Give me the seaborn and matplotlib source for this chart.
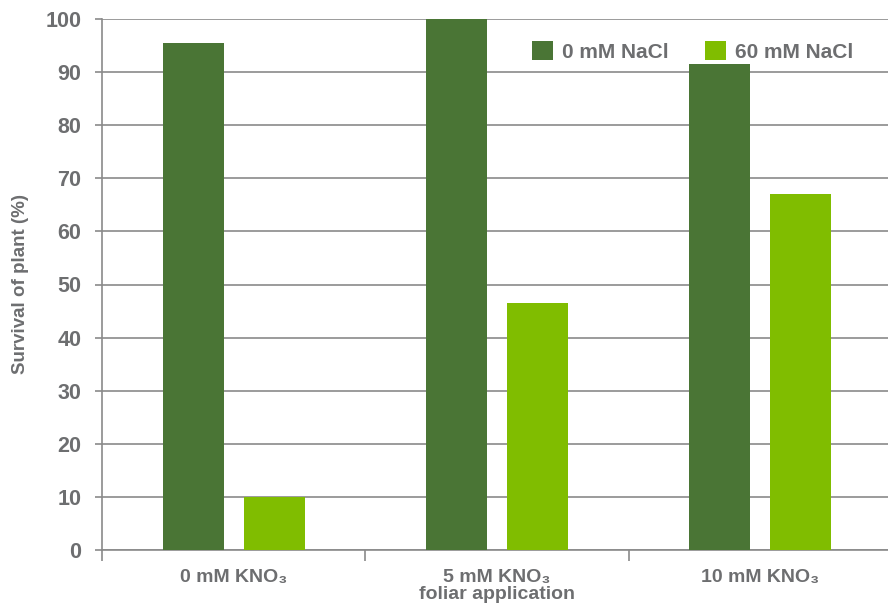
import matplotlib
matplotlib.use("Agg")
import matplotlib.pyplot as plt
import seaborn as sns
import pandas as pd

categories = ["0 mM KNO\u2083", "5 mM KNO\u2083\nfoliar application", "10 mM KNO\u2083"]
series_names = ["0 mM NaCl", "60 mM NaCl"]
nacl_0 = [95.5, 100.0, 91.5]
nacl_60 = [10.0, 46.5, 67.0]
yticks = [0, 10, 20, 30, 40, 50, 60, 70, 80, 90, 100]

colors = ["#4a7535", "#80bd00"]
text_color = "#6d6e70"
grid_color = "#8a8a8a"

sns.set_theme(style="white")
plt.rcParams["font.family"] = ["Liberation Sans", "DejaVu Sans"]
plt.rcParams["font.weight"] = "bold"

df = pd.DataFrame({
    "cat": categories * 2,
    "val": nacl_0 + nacl_60,
    "salt": [series_names[0]] * 3 + [series_names[1]] * 3,
})

fig = plt.figure(figsize=(8.88, 6.04), dpi=100)
ax = fig.add_axes([102 / 888, 1 - 550 / 604, 790 / 888, 531 / 604])

sns.barplot(data=df, x="cat", y="val", hue="salt", palette=colors,
            width=0.616, gap=0.247, saturation=1, ax=ax, zorder=3,
            linewidth=0, edgecolor="none")

ax.set_xlim(-0.5, 2.5)
ax.set_ylim(0, 100)
ax.set_yticks(yticks)
ax.set_yticklabels([str(v) for v in yticks])
ax.yaxis.grid(True, color=grid_color, linewidth=1.2, zorder=0)
ax.set_axisbelow(True)

for s in ["top", "right"]:
    ax.spines[s].set_visible(False)
for s in ["left", "bottom"]:
    ax.spines[s].set_color(grid_color)
    ax.spines[s].set_linewidth(1.2)

ax.tick_params(axis="y", which="major", left=True, length=5, width=1.2,
               color=grid_color, pad=10, labelsize=15.5, labelcolor=text_color)
ax.tick_params(axis="x", which="major", bottom=False, pad=8,
               labelsize=14, labelcolor=text_color)
ax.set_xticks([-0.5, 0.5, 1.5, 2.5], minor=True)
ax.tick_params(axis="x", which="minor", bottom=True, length=8, width=1.2,
               color=grid_color)
for lab in ax.get_xticklabels():
    lab.set_fontweight("bold")
    lab.set_linespacing(0.95)
for lab in ax.get_yticklabels():
    lab.set_fontweight("bold")

ax.set_xlabel("")
ax.set_ylabel("Survival of plant (%)", fontsize=13.5, fontweight="bold",
              color=text_color, labelpad=12)

handles, labels = ax.get_legend_handles_labels()
ax.legend(handles, labels, ncol=2, frameon=False, loc="upper right",
          bbox_to_anchor=(864 / 888, 1 - 31 / 604), bbox_transform=fig.transFigure,
          handlelength=1.0, handleheight=1.0, handletextpad=0.45,
          columnspacing=1.75, borderpad=0, labelcolor=text_color,
          prop={"weight": "bold", "size": 15})

fig.savefig("out.png", dpi=100)
